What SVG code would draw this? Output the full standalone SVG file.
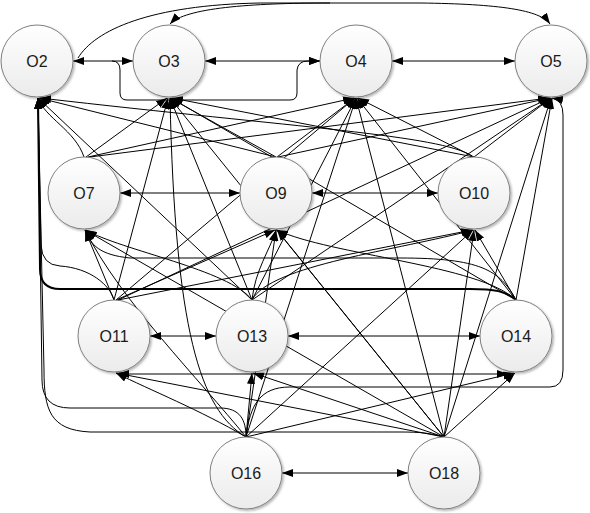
<svg xmlns="http://www.w3.org/2000/svg" width="590" height="513" viewBox="0 0 590 513">
<style>
.e{fill:none;stroke:#000;stroke-width:1;marker-end:url(#ah)}
.d{fill:none;stroke:#000;stroke-width:1;marker-end:url(#ah);marker-start:url(#ah)}
.p{fill:none;stroke:#000;stroke-width:1}
.n circle{fill:url(#g);stroke:#808080;stroke-width:1;filter:url(#sh)}
.n text{font-family:"Liberation Sans",Arial,sans-serif;font-size:16px;fill:#1a1a1a;text-anchor:middle;dominant-baseline:central}
</style>
<defs>
<marker id="ah" markerUnits="userSpaceOnUse" markerWidth="12" markerHeight="10" refX="11" refY="4" orient="auto-start-reverse">
<path d="M0,0 L11,4 L0,8 z" fill="#000"/>
</marker>
<linearGradient id="g" x1="0" y1="0" x2="0" y2="1">
<stop offset="0" stop-color="#ffffff"/>
<stop offset="1" stop-color="#ebebeb"/>
</linearGradient>
<filter id="sh" x="-20%" y="-20%" width="140%" height="140%">
<feDropShadow dx="1.5" dy="1.5" stdDeviation="1.2" flood-color="#000" flood-opacity="0.3"/>
</filter>
</defs>
<g id="connectors">
<!-- same-level double arrows -->
<path class="d" d="M73 61 L133 61"/>
<path class="d" d="M205 61 L320 61"/>
<path class="d" d="M392 61 L515 61"/>
<path class="d" d="M120 193 L240 193"/>
<path class="d" d="M312 193 L438 193"/>
<path class="d" d="M150 336 L216 336"/>
<path class="d" d="M288 336 L480 336"/>
<path class="d" d="M282 473 L408 473"/>
<path class="d" d="M118 374 L508 374"/>
<!-- top arcs and elbow -->
<path class="e" d="M78 58 C95 30 150 5 260 3 L420 3 C500 4 540 10 550 24"/>
<path class="e" d="M330 3 C250 3 185 8 170 24"/>
<path class="e" d="M112 61 Q120 61 120 70 L120 93 Q120 100 127 100 L290 100 Q297 100 297 93 L297 70 Q298 61 308 61 L320 61"/>
<!-- level 2 to level 1 -->
<path class="e" d="M84 157 C75 130 45 118 38 98"/>
<path class="e" d="M86 157 L167 98"/>
<path class="e" d="M88 157 L354 98"/>
<path class="e" d="M90 157 L549 98"/>
<path class="e" d="M276 157 L39 98"/>
<path class="e" d="M276 157 L170 98"/>
<path class="e" d="M277 157 L355 98"/>
<path class="e" d="M278 157 L550 98"/>
<path class="e" d="M472 156 C440 135 300 128 40 98"/>
<path class="e" d="M474 157 L172 98"/>
<path class="e" d="M474 157 L358 98"/>
<path class="e" d="M474 157 L551 98"/>
<!-- level 3 -->
<path class="e" d="M114 300 C110 285 90 268 60 266 Q42 265 41 245 L38 98"/>
<path class="e" d="M114 300 L168 98"/>
<path class="e" d="M116 300 L355 98"/>
<path class="e" d="M118 300 L550 98"/>
<path class="e" d="M114 300 L85 230"/>
<path class="e" d="M116 300 L275 230"/>
<path class="e" d="M118 300 L472 230"/>
<path class="e" d="M252 300 L38 98"/>
<path class="e" d="M252 300 L170 98"/>
<path class="e" d="M252 300 L356 98"/>
<path class="e" d="M252 300 L551 98"/>
<path class="e" d="M252 300 C230 270 120 250 86 230"/>
<path class="e" d="M252 300 C255 270 270 250 276 230"/>
<path class="e" d="M252 300 C270 265 400 250 473 230"/>
<path class="e" style="stroke-width:2" d="M516 300 C505 291 495 289 470 289 L60 289 Q40 289 40 269 L38 98"/>
<path class="e" d="M516 300 L171 98"/>
<path class="e" d="M516 300 L357 98"/>
<path class="e" d="M516 300 L552 98"/>
<path class="e" d="M516 300 C500 270 480 258 400 258 L130 258 C100 255 90 245 86 230"/>
<path class="e" d="M516 300 C480 265 330 255 277 230"/>
<path class="e" d="M516 300 L475 230"/>
<!-- level 4: O16 -->
<path class="e" d="M246 437 C246 420 240 408 220 408 L70 408 Q42 408 42 380 L38 98"/>
<path class="e" d="M246 437 C200 410 175 330 170 98"/>
<path class="e" d="M246 437 L356 98"/>
<path class="e" d="M246 437 C250 405 260 387 290 387 L550 387 Q563 387 563 370 L563 115 Q563 100 552 98"/>
<path class="e" d="M246 437 C200 380 120 300 85 230"/>
<path class="e" d="M246 437 L276 230"/>
<path class="e" d="M246 437 L473 230"/>
<path class="e" d="M246 437 C200 410 150 390 116 373"/>
<path class="e" d="M246 437 L252 373"/>
<path class="e" d="M246 437 L514 373"/>
<!-- level 4: O18 -->
<path class="e" d="M444 437 C430 433 420 432 400 432 L90 432 C50 430 44 410 44 370 L38 98"/>
<path class="e" d="M444 437 L170 98"/>
<path class="e" d="M444 437 L356 98"/>
<path class="e" d="M444 437 L551 98"/>
<path class="e" d="M444 437 L85 230"/>
<path class="e" d="M444 437 L277 230"/>
<path class="e" d="M444 437 L474 230"/>
<path class="e" d="M444 437 L116 373"/>
<path class="e" d="M444 437 L253 373"/>
<path class="e" d="M444 437 L515 373"/>
</g>
<g id="O2" class="n"><circle cx="37" cy="61" r="36"/><text x="37" y="61">O2</text></g>
<g id="O3" class="n"><circle cx="169" cy="61" r="36"/><text x="169" y="61">O3</text></g>
<g id="O4" class="n"><circle cx="356" cy="61" r="36"/><text x="356" y="61">O4</text></g>
<g id="O5" class="n"><circle cx="551" cy="61" r="36"/><text x="551" y="61">O5</text></g>
<g id="O7" class="n"><circle cx="84" cy="193" r="36"/><text x="84" y="193">O7</text></g>
<g id="O9" class="n"><circle cx="276" cy="193" r="36"/><text x="276" y="193">O9</text></g>
<g id="O10" class="n"><circle cx="474" cy="193" r="36"/><text x="474" y="193">O10</text></g>
<g id="O11" class="n"><circle cx="114" cy="336" r="36"/><text x="114" y="336">O11</text></g>
<g id="O13" class="n"><circle cx="252" cy="336" r="36"/><text x="252" y="336">O13</text></g>
<g id="O14" class="n"><circle cx="516" cy="336" r="36"/><text x="516" y="336">O14</text></g>
<g id="O16" class="n"><circle cx="246" cy="473" r="36"/><text x="246" y="473">O16</text></g>
<g id="O18" class="n"><circle cx="444" cy="473" r="36"/><text x="444" y="473">O18</text></g>
</svg>
